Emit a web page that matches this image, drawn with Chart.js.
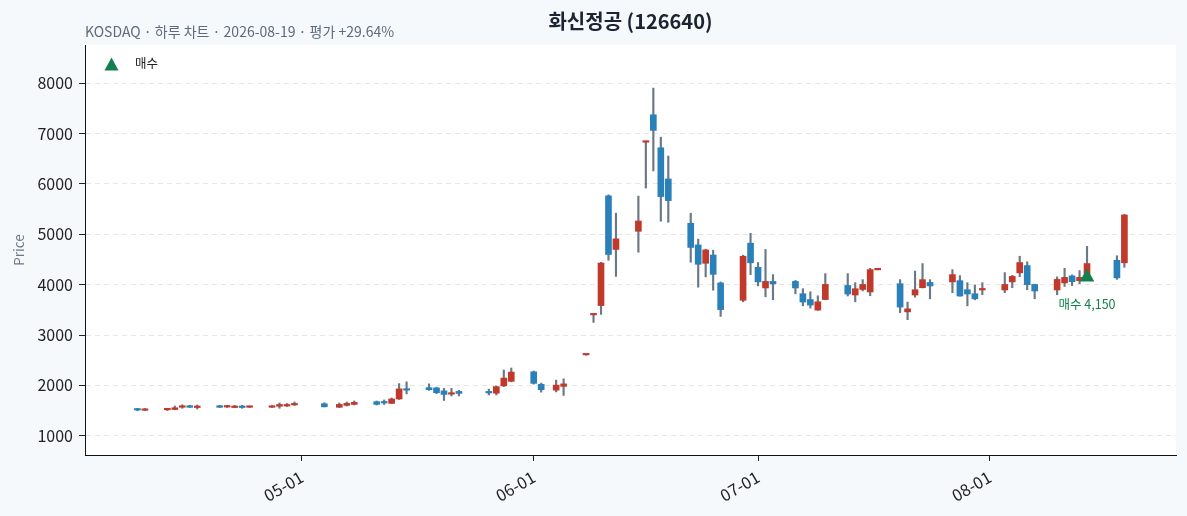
<!DOCTYPE html>
<html>
<head>
<meta charset="utf-8">
<script src="https://cdn.jsdelivr.net/npm/chart.js@4.4.1/dist/chart.umd.min.js"></script>
<style>
  html, body { margin: 0; padding: 0; background: #f5f9fc; }
  #wrap { width: 1187px; height: 516px; }
</style>
</head>
<body>
<div id="wrap"><canvas id="price-ctx" width="1187" height="516"></canvas></div>
<script>
// DATA
const DATES = [
  '2026-04-09','2026-04-10','2026-04-13','2026-04-14','2026-04-15','2026-04-16','2026-04-17',
  '2026-04-20','2026-04-21','2026-04-22','2026-04-23','2026-04-24','2026-04-27','2026-04-28',
  '2026-04-29','2026-04-30','2026-05-04','2026-05-06','2026-05-07','2026-05-08','2026-05-11',
  '2026-05-12','2026-05-13','2026-05-14','2026-05-15','2026-05-18','2026-05-19','2026-05-20',
  '2026-05-21','2026-05-22','2026-05-26','2026-05-27','2026-05-28','2026-05-29','2026-06-01',
  '2026-06-02','2026-06-04','2026-06-05','2026-06-08','2026-06-09','2026-06-10','2026-06-11',
  '2026-06-12','2026-06-15','2026-06-16','2026-06-17','2026-06-18','2026-06-19','2026-06-22',
  '2026-06-23','2026-06-24','2026-06-25','2026-06-26','2026-06-29','2026-06-30','2026-07-01',
  '2026-07-02','2026-07-03','2026-07-06','2026-07-07','2026-07-08','2026-07-09','2026-07-10',
  '2026-07-13','2026-07-14','2026-07-15','2026-07-16','2026-07-17','2026-07-20','2026-07-21',
  '2026-07-22','2026-07-23','2026-07-24','2026-07-27','2026-07-28','2026-07-29','2026-07-30',
  '2026-07-31','2026-08-03','2026-08-04','2026-08-05','2026-08-06','2026-08-07','2026-08-10',
  '2026-08-11','2026-08-12','2026-08-13','2026-08-14','2026-08-18','2026-08-19'
];
const OPEN = [
  1530,1505,1515,1520,1565,1595,1560,1590,1570,1560,1590,1565,1565,1585,
  1590,1612,1635,1565,1603,1622,1676,1660,1642,1730,1935,1955,1950,1890,
  1825,1880,1860,1845,1990,2080,2270,2020,1905,1980,2605,3400,3585,5765,
  4700,5060,6830,7375,6720,6100,5220,4790,4425,4590,4035,3690,4825,4345,
  3935,4065,4065,3820,3705,3495,3705,3985,3795,3905,3855,4295,4020,3460,
  3795,3940,4045,4055,4080,3900,3820,3895,3895,4055,4235,4380,4005,3895,
  4035,4175,4080,4185,4485,4435
];
const HIGH = [
  1545,1540,1535,1590,1615,1605,1610,1605,1605,1605,1605,1590,1600,1650,
  1640,1670,1655,1650,1670,1690,1690,1710,1750,2035,2070,2030,1965,1940,
  1940,1900,1925,1990,2305,2345,2285,2045,2105,2130,2625,3420,4445,5785,
  5420,5760,6850,7905,6930,6555,5420,4905,4705,4685,4055,4585,5020,4440,
  4700,4200,4085,3920,3860,3780,4220,4220,4040,4100,4325,4310,4100,3655,
  4270,4420,4100,4300,4180,4040,3995,4040,4240,4185,4565,4455,4010,4155,
  4325,4195,4280,4760,4575,5400
];
const LOW = [
  1495,1500,1500,1515,1545,1560,1530,1560,1560,1555,1545,1560,1560,1545,
  1580,1600,1570,1560,1590,1610,1610,1620,1640,1720,1830,1900,1835,1700,
  1790,1790,1810,1810,1975,2070,2025,1865,1870,1800,2600,3250,3410,4485,
  4165,4645,5920,6260,5260,5240,4445,3950,4155,3890,3370,3660,4200,3975,
  3760,3700,3820,3580,3535,3490,3700,3775,3660,3875,3780,4295,3445,3305,
  3750,3935,3720,3840,3770,3580,3700,3800,3840,3940,4160,3900,3720,3800,
  3965,3980,4020,4080,4105,4345
];
const CLOSE = [
  1510,1530,1525,1555,1575,1565,1590,1565,1575,1590,1560,1572,1575,1620,
  1620,1620,1575,1622,1642,1662,1622,1650,1730,1930,1905,1915,1855,1820,
  1830,1840,1850,1975,2145,2265,2040,1915,2005,2030,2620,3415,4430,4600,
  4910,5265,6845,7065,5750,5670,4740,4405,4690,4205,3505,4565,4435,4055,
  4065,4015,3935,3655,3595,3660,4005,3815,3920,4005,4300,4305,3555,3520,
  3900,4100,3975,4200,3775,3815,3720,3905,4005,4165,4440,4000,3875,4105,
  4145,4060,4145,4420,4135,5385
];
const BUY_DATE = '2026-08-14';
const BUY_PRICE = 4150;
const X_TICKS = ['2026-05-01', '2026-06-01', '2026-07-01', '2026-08-01'];
const Y_TICKS = [1000, 2000, 3000, 4000, 5000, 6000, 7000, 8000];

const UP = '#c0392b';
const DOWN = '#2a80b9';
const WICK = '#6b7886';
const BUY = '#12804c';
const FONT = "'Noto Sans CJK KR', 'Noto Sans', sans-serif";

// days since 2026-04-01, used as the linear x value
const DAY0 = Date.UTC(2026, 3, 1);
const toDay = (s) => (Date.parse(s + 'T00:00:00Z') - DAY0) / 86400000;
const fromDay = (d) => {
  const dt = new Date(DAY0 + d * 86400000);
  return String(dt.getUTCMonth() + 1).padStart(2, '0') + '-' + String(dt.getUTCDate()).padStart(2, '0');
};

const wicks = DATES.map((d, i) => ({x: toDay(d), y: [LOW[i], HIGH[i]]}));
const bodies = DATES.map((d, i) => ({x: toDay(d), y: [OPEN[i], CLOSE[i]]}));
const candleColor = (ctx) => CLOSE[ctx.dataIndex] >= OPEN[ctx.dataIndex] ? UP : DOWN;

// background + texts
const decorations = {
  id: 'decorations',
  beforeDraw(chart) {
    const {ctx, chartArea: a} = chart;
    ctx.save();
    ctx.fillStyle = '#f5f9fc';
    ctx.fillRect(0, 0, chart.width, chart.height);
    ctx.fillStyle = '#ffffff';
    ctx.fillRect(a.left, a.top, a.right - a.left, a.bottom - a.top);
    ctx.restore();
  },
  afterDraw(chart) {
    const {ctx, chartArea: a} = chart;
    ctx.save();
    // title
    ctx.fillStyle = '#1b2430';
    ctx.font = 'bold 20px ' + FONT;
    ctx.textAlign = 'center';
    ctx.textBaseline = 'middle';
    ctx.fillText('화신정공 (126640)', (a.left + a.right) / 2, 21);
    // subtitle
    ctx.fillStyle = '#5d6b7c';
    ctx.font = '14px ' + FONT;
    ctx.textAlign = 'left';
    ctx.fillText('KOSDAQ · 하루 차트 · 2026-08-19 · 평가 +29.64%', a.left, 32);
    // y label
    ctx.save();
    ctx.translate(19, (a.top + a.bottom) / 2);
    ctx.rotate(-Math.PI / 2);
    ctx.textAlign = 'center';
    ctx.fillStyle = '#6b7886';
    ctx.font = '13.5px ' + FONT;
    ctx.fillText('Price', 0, 0);
    ctx.restore();
    // legend
    ctx.fillStyle = BUY;
    ctx.beginPath();
    ctx.moveTo(111.5, 57.5);
    ctx.lineTo(118.5, 70.5);
    ctx.lineTo(104.5, 70.5);
    ctx.closePath();
    ctx.fill();
    ctx.fillStyle = '#222222';
    ctx.font = '12.5px ' + FONT;
    ctx.textAlign = 'left';
    ctx.fillText('매수', 135, 63.5);
    // buy annotation
    const bx = chart.scales.x.getPixelForValue(toDay(BUY_DATE));
    const by = chart.scales.y.getPixelForValue(BUY_PRICE);
    ctx.fillStyle = BUY;
    ctx.font = '12.5px ' + FONT;
    ctx.textAlign = 'center';
    ctx.fillText('매수 ' + BUY_PRICE.toLocaleString('en-US'), bx, by + 27);
    ctx.restore();
  }
};

new Chart(document.getElementById('price-ctx'), {
  type: 'bar',
  data: {
    datasets: [
      {
        label: 'wick',
        data: wicks,
        backgroundColor: WICK,
        barThickness: 1.5,
        grouped: false,
        order: 3
      },
      {
        label: 'body',
        data: bodies,
        backgroundColor: candleColor,
        barThickness: 6,
        minBarLength: 1.5,
        grouped: false,
        order: 2
      },
      {
        type: 'scatter',
        label: '매수',
        data: [{x: toDay(BUY_DATE), y: BUY_PRICE}],
        pointStyle: 'triangle',
        radius: 8.5,
        backgroundColor: BUY,
        borderColor: BUY,
        borderWidth: 0,
        order: 1
      }
    ]
  },
  options: {
    responsive: false,
    animation: false,
    layout: { padding: { top: 45, right: 11, left: 0, bottom: 0 } },
    plugins: {
      legend: { display: false },
      tooltip: { enabled: false }
    },
    scales: {
      x: {
        type: 'linear',
        offset: false,
        min: 0.99,
        max: 146.9,
        afterBuildTicks: (scale) => { scale.ticks = X_TICKS.map(t => ({value: toDay(t)})); },
        afterFit: (scale) => { scale.height = 61; },
        ticks: {
          callback: (v) => fromDay(v),
          maxRotation: 30,
          minRotation: 30,
          autoSkip: false,
          color: '#222222',
          padding: 6,
          font: { family: FONT, size: 16.5 }
        },
        grid: { offset: false, drawOnChartArea: false, tickLength: 6, tickColor: '#222222' },
        border: { color: '#111111', width: 1 }
      },
      y: {
        min: 617,
        max: 8761,
        afterBuildTicks: (scale) => { scale.ticks = Y_TICKS.map(v => ({value: v})); },
        afterFit: (scale) => { scale.width = 85; },
        ticks: {
          callback: (v) => String(v),
          color: '#222222',
          padding: 6,
          font: { family: FONT, size: 16 }
        },
        grid: {
          color: '#e6e6e6',
          borderDash: [5, 4],
          tickLength: 6,
          tickColor: '#222222',
          tickBorderDash: []
        },
        border: { color: '#111111', width: 1, dash: [5, 4] }
      }
    }
  },
  plugins: [decorations]
});
</script>
</body>
</html>
